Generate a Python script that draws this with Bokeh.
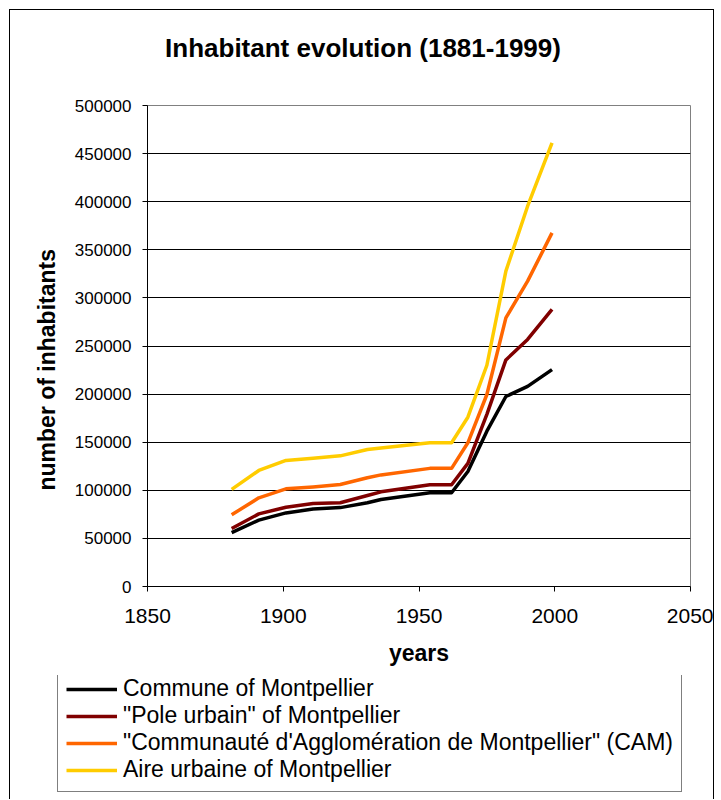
from bokeh.plotting import figure
from bokeh.models import Range1d, FixedTicker, BasicTickFormatter, Legend, LegendItem, Title
from bokeh.embed import file_html
from bokeh.resources import INLINE

years = [1881, 1891, 1901, 1911, 1921, 1931, 1936, 1954, 1962, 1968, 1975, 1982, 1990, 1999]
commune = [56000, 69000, 76500, 80500, 82000, 87000, 90500, 97500, 97500, 119500, 161500, 197500, 208000, 225500]
pole_urbain = [60300, 75500, 82400, 86300, 87000, 94600, 98400, 105800, 105800, 128000, 179000, 235500, 256800, 288000]
cam = [74500, 92200, 101500, 103500, 106000, 113000, 116000, 122800, 122800, 149400, 199600, 279300, 317400, 367600]
aire_urbaine = [101000, 120600, 131000, 133400, 135800, 142400, 144000, 149400, 149400, 176000, 230000, 327800, 395300, 461200]

series_names = [
    "Commune of Montpellier",
    "\"Pole urbain\" of Montpellier",
    "\"Communauté d'Agglomération de Montpellier\" (CAM)",
    "Aire urbaine of Montpellier",
]
series_values = [commune, pole_urbain, cam, aire_urbaine]
series_colors = ["#000000", "#800000", "#FF6600", "#FFCC00"]

x_ticks = [1850, 1900, 1950, 2000, 2050]
y_ticks = list(range(0, 500001, 50000))

FONT = "Liberation Sans"
BORDER = "1px solid #000000"

# ---- title strip ----
pt = figure(
    width=705, height=84,
    output_backend="svg", toolbar_location=None,
    x_range=Range1d(0, 1), y_range=Range1d(0, 1),
    x_axis_location=None, y_axis_location=None,
    min_border_left=0, min_border_right=0, min_border_top=0, min_border_bottom=0,
    title="Inhabitant evolution (1881-1999)",
    styles={"margin-left": "9px", "margin-top": "9px",
            "border-left": BORDER, "border-top": BORDER, "border-right": BORDER},
)
pt.grid.visible = False
pt.outline_line_color = None
pt.background_fill_color = "white"
pt.border_fill_color = "white"
pt.title.align = "center"
pt.title.text_font = FONT
pt.title.text_font_size = "26px"
pt.title.text_font_style = "bold"
pt.title.text_color = "#000000"
pt.title.standoff = 40

# ---- main chart ----
p = figure(
    width=705, height=582,
    output_backend="svg", toolbar_location=None,
    x_range=Range1d(1850, 2050), y_range=Range1d(0, 500000),
    min_border_left=137, min_border_right=25, min_border_top=12, min_border_bottom=89,
    styles={"margin-left": "9px", "border-left": BORDER, "border-right": BORDER},
)
p.background_fill_color = "white"
p.border_fill_color = "white"
p.outline_line_color = "#808080"
p.outline_line_width = 1

ylab = Title(text="number of inhabitants", align="left", offset=96,
             text_font=FONT, text_font_size="23px", text_font_style="bold",
             text_color="#000000", standoff=23)
p.add_layout(ylab, "left")

p.xgrid.grid_line_color = None
p.ygrid.ticker = FixedTicker(ticks=y_ticks)
p.ygrid.grid_line_color = "#000000"
p.ygrid.grid_line_width = 1

p.xaxis.ticker = FixedTicker(ticks=x_ticks)
p.yaxis.ticker = FixedTicker(ticks=y_ticks)
p.yaxis.formatter = BasicTickFormatter(use_scientific=False)
for ax in (p.xaxis, p.yaxis):
    ax.axis_line_color = "#000000"
    ax.major_tick_line_color = "#000000"
    ax.minor_tick_line_color = None
    ax.major_tick_in = 0
    ax.major_tick_out = 5
    ax.major_label_text_font = FONT
    ax.major_label_text_color = "#000000"
    ax.axis_label_text_font = FONT
    ax.axis_label_text_font_style = "bold"
    ax.axis_label_text_color = "#000000"

p.xaxis.major_label_text_font_size = "21px"
p.xaxis.major_label_standoff = 17
p.xaxis.axis_label = "years"
p.xaxis.axis_label_text_font_size = "23px"
p.xaxis.axis_label_standoff = 14

p.yaxis.major_label_text_font_size = "17px"
p.yaxis.major_label_standoff = 11

for vals, col in zip(series_values, series_colors):
    p.line(years, vals, line_color=col, line_width=3.5, line_join="round")

# ---- legend strip ----
pl = figure(
    width=705, height=124,
    output_backend="svg", toolbar_location=None,
    x_range=Range1d(0, 1), y_range=Range1d(0, 1),
    x_axis_location=None, y_axis_location=None,
    min_border_left=0, min_border_right=0, min_border_top=0, min_border_bottom=0,
    styles={"margin-left": "9px", "border-left": BORDER, "border-right": BORDER},
)
pl.grid.visible = False
pl.outline_line_color = None
pl.background_fill_color = "white"
pl.border_fill_color = "white"

items = []
for name, vals, col in zip(series_names, series_values, series_colors):
    r = pl.line(years, vals, line_color=col, line_width=3.5)
    items.append(LegendItem(label=name, renderers=[r]))

legend = Legend(items=items)
legend.label_text_font = FONT
legend.label_text_font_size = "23px"
legend.label_text_color = "#000000"
legend.glyph_width = 51
legend.glyph_height = 20
legend.label_height = 20
legend.label_standoff = 6
try:
    legend.spacing = -2
    y_off = 7
except Exception:
    legend.spacing = 0
    y_off = 1
legend.location = (47, y_off)
legend.padding = 8
legend.margin = 0
legend.border_line_color = "#000000"
legend.border_line_width = 1
legend.background_fill_color = "white"
pl.add_layout(legend, "center")

open("out.html", "w").write(file_html([pt, p, pl], INLINE))
